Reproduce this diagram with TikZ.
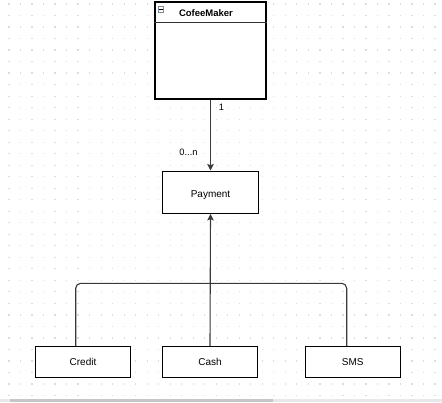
\documentclass[tikz,border=0pt]{standalone}
\usepackage{fontspec}
\setmainfont{Liberation Sans}
\usetikzlibrary{arrows.meta,calc}
\definecolor{griddot}{HTML}{DCDCDC}
\definecolor{connc}{HTML}{3A3A3A}
\definecolor{iconc}{HTML}{7A8A9C}
\tikzset{
  umlbox/.style={draw=black,line width=1.1pt,fill=white,inner sep=0pt,font=\fontsize{10}{12}\selectfont},
  conn/.style={draw=connc,line width=1.1pt},
  tip/.style={-{Stealth[length=6.5pt,width=6.5pt,inset=1.2pt]}},
  lbl/.style={font=\fontsize{9.3}{11}\selectfont,inner sep=0pt}
}
\begin{document}
\begin{tikzpicture}[x=1pt,y=-1pt]
\useasboundingbox (0,0) rectangle (442,402);
\fill[white] (0,0) rectangle (442,402);
% grid dots
\foreach \i in {0,...,37}{
  \foreach \j in {0,...,34}{
    \fill[griddot] ({9+11.515*\i-0.6},{4+11.515*\j-0.6}) rectangle ++(1.2,1.2);
  }
}
% scrollbar
\fill[gray!18] (0,399.3) rectangle (442,402);
\fill[gray!45] (10,399.3) rectangle (273,402);
% CofeeMaker class
\node[umlbox,minimum width=111pt,minimum height=97pt] (cm) at (210.5,50.5) {};
\draw[line width=1.1pt,black!80] (cm.west |- 0,22.7) -- (cm.east |- 0,22.7);
\node[font=\bfseries\fontsize{9.5}{11}\selectfont,inner sep=0pt] (cmt) at (206,13) {CofeeMaker};
\node[draw=iconc,line width=0.6pt,fill=white,minimum size=5.5pt,inner sep=0pt] (icon) at (161,9.5) {};
\draw[black,line width=0.9pt] ([xshift=1.2pt]icon.west) -- ([xshift=-1.2pt]icon.east);
% Payment
\node[umlbox,minimum width=95.6pt,minimum height=42.3pt,text height=12.5pt,text depth=1.2pt] (pay) at (210.5,192.2) {Payment};
% subclasses
\node[umlbox,minimum width=95.4pt,minimum height=31pt] (credit) at (83,362.2) {Credit};
\node[umlbox,minimum width=95.4pt,minimum height=31pt] (cash) at (210,362.2) {Cash};
\node[umlbox,minimum width=95pt,minimum height=31pt] (sms) at (352.8,362.2) {SMS};
% association
\draw[conn,tip] (cm.south) -- (pay.north);
\node[lbl] (one) at (221.5,107) {1};
\node[lbl] (mult) at (188.5,152) {0...n};
% generalization bus
\coordinate (bus) at (210,283.3);
\draw[conn,tip] (cash.north) -- (pay.south);
\draw[conn,rounded corners=5pt] ([xshift=-7.3pt]credit.north) |- (bus) -| ([xshift=-6.1pt]sms.north);
\end{tikzpicture}
\end{document}
